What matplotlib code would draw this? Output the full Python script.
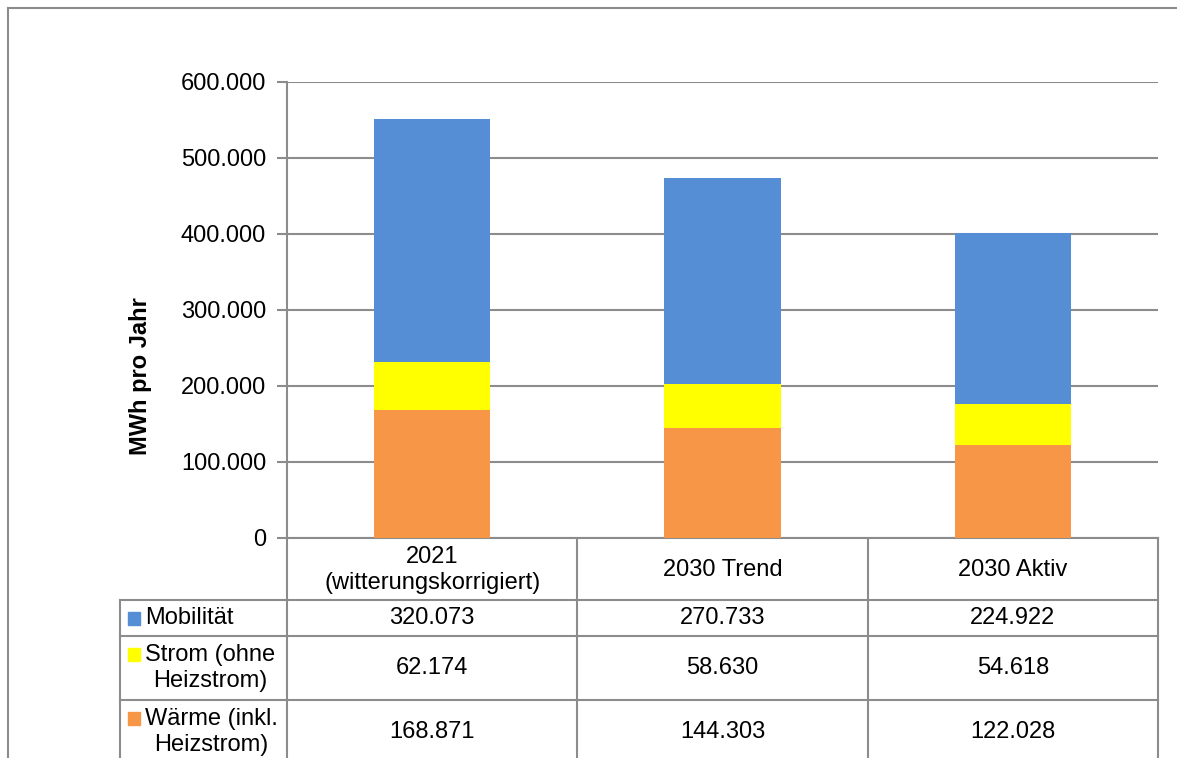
import numpy as np
import matplotlib.pyplot as plt
from matplotlib.lines import Line2D
from matplotlib.patches import Rectangle

plt.rcParams["font.family"] = ["Liberation Sans", "DejaVu Sans"]

categories = ["2021\n(witterungskorrigiert)", "2030 Trend", "2030 Aktiv"]
series_names = ["Mobilität", "Strom (ohne\nHeizstrom)", "Wärme (inkl.\nHeizstrom)"]
mobilitaet = [320073, 270733, 224922]
strom = [62174, 58630, 54618]
waerme = [168871, 144303, 122028]
yticks = [0, 100000, 200000, 300000, 400000, 500000, 600000]

BLUE = "#558ed5"
YELLOW = "#ffff00"
ORANGE = "#f79646"
GRID = "#8c8c8c"
FS = 17

W, H = 1177, 758
fig = plt.figure(figsize=(W / 100, H / 100), dpi=100)

# pixel layout
ax_l, ax_r, ax_t, ax_b = 287, 1158, 82, 538
ax = fig.add_axes([ax_l / W, 1 - ax_b / H, (ax_r - ax_l) / W, (ax_b - ax_t) / H])

x = np.arange(len(categories)) + 0.5
ax.bar(x, waerme, width=0.4, color=ORANGE, zorder=3)
ax.bar(x, strom, width=0.4, bottom=waerme, color=YELLOW, zorder=3)
bottom2 = np.array(waerme) + np.array(strom)
ax.bar(x, mobilitaet, width=0.4, bottom=bottom2, color=BLUE, zorder=3)

ax.set_xlim(0, len(categories))
ax.set_ylim(0, 600000)
ax.set_yticks(yticks)
ax.set_yticklabels([f"{v:,}".replace(",", ".") for v in yticks], fontsize=FS)
ax.set_xticks([])
ax.yaxis.grid(True, color=GRID, linewidth=1.5, zorder=0)
ax.tick_params(axis="y", length=7, width=1.5, color=GRID, pad=8)
for s in ["top", "right"]:
    ax.spines[s].set_visible(False)
for s in ["left", "bottom"]:
    ax.spines[s].set_color(GRID)
    ax.spines[s].set_linewidth(1.5)

# overlay in pixel coordinates for the data table and frame
ov = fig.add_axes([0, 0, 1, 1], zorder=-1)
ov.set_xlim(0, W)
ov.set_ylim(H, 0)
ov.axis("off")
ov.patch.set_alpha(0)

ov.text(141, 376, "MWh pro Jahr", rotation=90, ha="center", va="center",
        fontsize=FS, fontweight="bold")

lw = 1.5
col_w = (ax_r - ax_l) / len(categories)
col_edges = [ax_l + i * col_w for i in range(len(categories) + 1)]
tab_l = 120
row_edges = [538, 600, 636, 700, H + 5]
row_centers = [618, 668, 732]

def line(x0, y0, x1, y1):
    ov.add_line(Line2D([x0, x1], [y0, y1], color=GRID, linewidth=lw))

# outer frame
line(8, 8, W + 5, 8)
line(8, 8, 8, H + 5)

# vertical table lines
for cx in col_edges:
    line(cx, row_edges[0], cx, H + 5)
line(tab_l, row_edges[1], tab_l, H + 5)
# horizontal table lines
for ry in row_edges[1:-1]:
    line(tab_l, ry, ax_r, ry)

# header row
for i, cat in enumerate(categories):
    cx = (col_edges[i] + col_edges[i + 1]) / 2
    ov.text(cx, (row_edges[0] + row_edges[1]) / 2 + 1, cat, ha="center", va="center",
            fontsize=FS, linespacing=1.2)

colors = [BLUE, YELLOW, ORANGE]
values = [mobilitaet, strom, waerme]
for r, (name, col, vals) in enumerate(zip(series_names, colors, values)):
    yc = row_centers[r]
    first = yc if "\n" not in name else yc - 13.5
    ov.add_patch(Rectangle((128, first - 6.5), 12, 13, color=col))
    ov.text(145, yc, name, ha="left", va="center", multialignment="center",
            fontsize=FS, linespacing=1.2)
    for i, v in enumerate(vals):
        cx = (col_edges[i] + col_edges[i + 1]) / 2
        ov.text(cx, yc, f"{v:,}".replace(",", "."), ha="center", va="center", fontsize=FS)

fig.savefig("out.png", dpi=100)
